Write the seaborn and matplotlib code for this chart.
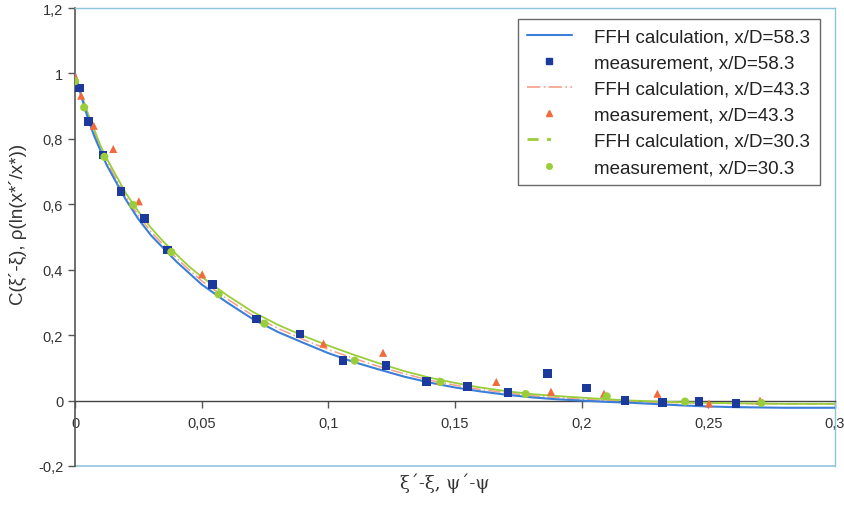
import numpy as np
import pandas as pd
import matplotlib
matplotlib.use("Agg")
import matplotlib.pyplot as plt
from matplotlib.lines import Line2D
import seaborn as sns

# ---------------- data ----------------
calc_x = [0.0, 0.0025, 0.005, 0.0075, 0.01, 0.0125, 0.015, 0.02, 0.025, 0.03, 0.035,
          0.04, 0.045, 0.05, 0.06, 0.07, 0.08, 0.09, 0.10, 0.11, 0.12, 0.13, 0.14,
          0.15, 0.16, 0.17, 0.18, 0.19, 0.20, 0.21, 0.22, 0.23, 0.24, 0.25, 0.26,
          0.27, 0.28, 0.29, 0.30]
calc_583 = [1.0, 0.93, 0.865, 0.81, 0.765, 0.72, 0.685, 0.615, 0.555, 0.505, 0.465,
            0.425, 0.39, 0.355, 0.30, 0.25, 0.21, 0.177, 0.145, 0.118, 0.095, 0.073,
            0.055, 0.040, 0.028, 0.018, 0.010, 0.004, 0.0, -0.004, -0.007, -0.011,
            -0.015, -0.018, -0.020, -0.021, -0.022, -0.022, -0.022]
calc_433 = [0.995, 0.932, 0.872, 0.82, 0.772, 0.73, 0.695, 0.625, 0.566, 0.516, 0.475,
            0.436, 0.40, 0.366, 0.311, 0.261, 0.221, 0.187, 0.156, 0.129, 0.104, 0.082,
            0.062, 0.047, 0.034, 0.024, 0.015, 0.009, 0.004, 0.0, -0.003, -0.005,
            -0.007, -0.008, -0.009, -0.010, -0.010, -0.010, -0.010]
calc_303 = [0.99, 0.935, 0.88, 0.83, 0.78, 0.74, 0.705, 0.635, 0.578, 0.528, 0.485,
            0.447, 0.41, 0.378, 0.322, 0.272, 0.232, 0.198, 0.168, 0.14, 0.114, 0.09,
            0.07, 0.054, 0.040, 0.029, 0.020, 0.014, 0.009, 0.004, 0.0, -0.003,
            -0.005, -0.007, -0.008, -0.009, -0.010, -0.010, -0.010]

meas583_x = [0.0017, 0.0054, 0.011, 0.0182, 0.0274, 0.0365, 0.0543, 0.0717, 0.0889,
             0.1058, 0.1227, 0.1387, 0.155, 0.171, 0.1866, 0.2018, 0.2171, 0.232,
             0.2464, 0.261]
meas583_y = [0.955, 0.853, 0.751, 0.639, 0.557, 0.460, 0.355, 0.249, 0.204,
             0.122, 0.107, 0.058, 0.043, 0.025, 0.083, 0.038, 0.001, -0.006,
             -0.003, -0.009]

meas433_x = [0.0, 0.0024, 0.0074, 0.0151, 0.0252, 0.0502, 0.0981, 0.1216, 0.144,
             0.1663, 0.1879, 0.2088, 0.2299, 0.2503, 0.2704]
meas433_y = [0.991, 0.932, 0.840, 0.769, 0.609, 0.386, 0.174, 0.146, 0.060,
             0.057, 0.027, 0.021, 0.021, -0.009, 0.0]

meas303_x = [0.0, 0.0036, 0.0116, 0.023, 0.038, 0.0567, 0.0748, 0.1104, 0.1443,
             0.1779, 0.2099, 0.2408, 0.2709]
meas303_y = [0.976, 0.896, 0.745, 0.598, 0.454, 0.325, 0.235, 0.122, 0.057,
             0.020, 0.013, -0.003, -0.007]

labels = ["FFH calculation, x/D=58.3", "measurement, x/D=58.3",
          "FFH calculation, x/D=43.3", "measurement, x/D=43.3",
          "FFH calculation, x/D=30.3", "measurement, x/D=30.3"]

x_ticks = [0, 0.05, 0.1, 0.15, 0.2, 0.25, 0.3]
x_ticklabels = ["0", "0,05", "0,1", "0,15", "0,2", "0,25", "0,3"]
y_ticks = [-0.2, 0, 0.2, 0.4, 0.6, 0.8, 1.0, 1.2]
y_ticklabels = ["-0,2", "0", "0,2", "0,4", "0,6", "0,8", "1", "1,2"]

# ---------------- style ----------------
sns.set_style("white")
plt.rcParams["font.family"] = ["Liberation Sans", "DejaVu Sans"]

fig = plt.figure(figsize=(8.44, 5.06), dpi=100)
ax = fig.add_axes([75 / 844, 1 - 467 / 506, 760 / 844, 458 / 506])

blue_line = "#3b7fd8"
blue_mark = "#1c3a9e"
red_line = "#f5a08c"
red_mark = "#f26a3c"
green = "#9acd3a"

calc = pd.DataFrame({"x": calc_x, "a": calc_583, "b": calc_433, "c": calc_303})

sns.lineplot(data=calc, x="x", y="a", ax=ax, color=blue_line, lw=1.5,
             estimator=None, zorder=4)
sns.scatterplot(x=meas583_x, y=meas583_y, ax=ax, marker="s", s=38,
                color=blue_mark, edgecolor="none", zorder=5)
sns.lineplot(data=calc, x="x", y="b", ax=ax, color=red_line, lw=1.1,
             estimator=None, zorder=3)
ax.lines[-1].set_dashes([8, 2, 1, 2])
sns.scatterplot(x=meas433_x, y=meas433_y, ax=ax, marker="^", s=34,
                color=red_mark, edgecolor="none", zorder=5)
sns.lineplot(data=calc, x="x", y="c", ax=ax, color=green, lw=1.3,
             estimator=None, zorder=3)
sns.scatterplot(x=meas303_x, y=meas303_y, ax=ax, marker="o", s=34,
                color=green, edgecolor="none", zorder=5)

ax.set_xlim(0, 0.3)
ax.set_ylim(-0.2, 1.2)
ax.set_xticks(x_ticks)
ax.set_xticklabels(x_ticklabels)
ax.set_yticks(y_ticks)
ax.set_yticklabels(y_ticklabels)

frame_c = "#8cc6dc"
for side in ["top", "right"]:
    ax.spines[side].set_color(frame_c)
    ax.spines[side].set_linewidth(1.0)
ax.spines["left"].set_color("#555555")
ax.spines["left"].set_linewidth(1.2)
ax.spines["bottom"].set_position(("data", 0))
ax.spines["bottom"].set_color("#444444")
ax.spines["bottom"].set_linewidth(1.0)
ax.axhline(-0.2, color=frame_c, lw=1.2, clip_on=False, zorder=0)

ax.tick_params(axis="both", which="both", direction="out", length=5,
               width=1, color="#555555", labelsize=10.5, labelcolor="#333333",
               left=True, bottom=True)
ax.tick_params(axis="x", pad=6)

ax.set_xlabel("ξ´-ξ, ψ´-ψ", fontsize=13, family="DejaVu Serif", color="#333333",
              va="center")
ax.xaxis.set_label_coords(0.487, -0.035)
ax.set_ylabel("C(ξ´-ξ), ρ(ln(x*´/x*))", fontsize=13.5, color="#333333", va="center")
ax.yaxis.set_label_coords(-0.075, 0.53)

handles = [
    Line2D([], [], color=blue_line, lw=1.5),
    Line2D([], [], color=blue_mark, marker="s", ms=4, ls="none"),
    Line2D([], [], color=red_line, lw=1.2, dashes=[8, 2, 1, 2]),
    Line2D([], [], color=red_mark, marker="^", ms=4, ls="none"),
    Line2D([], [], color=green, lw=2.0, dashes=[4, 3, 1.5, 9]),
    Line2D([], [], color=green, marker="o", ms=4, ls="none"),
]
leg = ax.legend(handles, labels, loc="upper right", bbox_to_anchor=(0.98, 0.976),
                borderaxespad=0, fancybox=False, frameon=True,
                edgecolor="#444444", fontsize=13.5, labelspacing=0.48,
                handlelength=2.4, borderpad=0.5, handletextpad=1.2)
leg.get_frame().set_linewidth(1.0)
for t in leg.get_texts():
    t.set_color("#222222")

fig.savefig("out.png", dpi=100)
